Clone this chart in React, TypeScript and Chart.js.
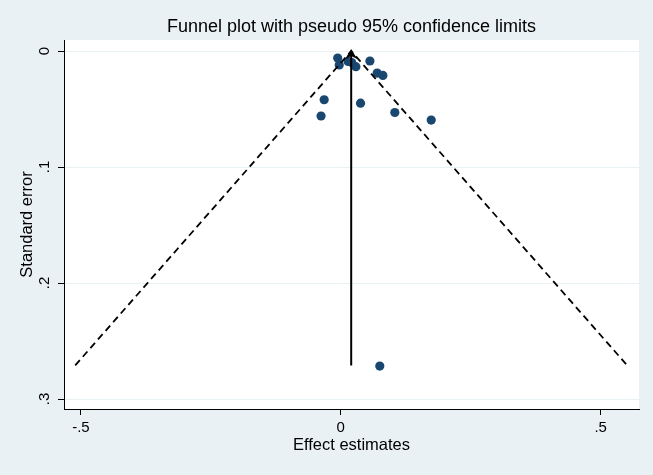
import React, { useEffect, useRef } from "react";
import { Chart, registerables } from "chart.js";

Chart.register(...registerables);

// Study-level data
const effectEstimates = [-0.006, -0.003, 0.014, 0.021, 0.029, 0.056, 0.07, 0.081, -0.032, -0.038, 0.038, 0.104, 0.174, 0.075];
const standardErrors = [0.006, 0.012, 0.009, 0.01, 0.0135, 0.0086, 0.019, 0.021, 0.042, 0.056, 0.045, 0.053, 0.0595, 0.2716];

// Pooled estimate line and pseudo 95% limits
const pooledX = [0.02, 0.02];
const pooledSe = [0.271, 0];
const funnelX = [-0.511, 0.02, 0.551];
const funnelSe = [0.271, 0, 0.271];

// Axes
const xTicks = [-0.5, 0, 0.5];
const xTickLabels = ["-.5", "0", ".5"];
const yTicks = [0, 0.1, 0.2, 0.3];
const yTickLabels = ["0", ".1", ".2", ".3"];

const titleText = "Funnel plot with pseudo 95% confidence limits";

const BG = "rgb(234,241,244)";
const GRID = "rgb(234,241,244)";
const NAVY = "#1a476f";
const FONT = "'Liberation Sans', Arial, Helvetica, sans-serif";

const backgroundPlugin = {
  id: "stataBackground",
  beforeDraw(chart: any) {
    const { ctx, chartArea, width, height } = chart;
    ctx.save();
    ctx.fillStyle = BG;
    ctx.fillRect(0, 0, width, height);
    ctx.fillStyle = "#ffffff";
    ctx.fillRect(chartArea.left, chartArea.top, chartArea.right - chartArea.left, chartArea.bottom - chartArea.top);
    ctx.restore();
  },
  afterDraw(chart: any) {
    const { ctx, chartArea } = chart;
    ctx.save();
    ctx.fillStyle = "#000";
    ctx.font = `18px ${FONT}`;
    ctx.textAlign = "center";
    ctx.textBaseline = "middle";
    ctx.fillText(titleText, (chartArea.left + chartArea.right) / 2, 27);
    ctx.restore();
  },
};

const arrowPlugin = {
  id: "pooledArrow",
  afterDatasetsDraw(chart: any) {
    const { ctx, scales } = chart;
    const px = scales.x.getPixelForValue(pooledX[1]);
    const py = scales.y.getPixelForValue(pooledSe[1]);
    ctx.save();
    ctx.fillStyle = "#000";
    ctx.beginPath();
    ctx.moveTo(px, py - 2);
    ctx.lineTo(px - 6, py + 8);
    ctx.lineTo(px, py + 5);
    ctx.lineTo(px + 6, py + 8);
    ctx.closePath();
    ctx.fill();
    ctx.restore();
  },
};

export default function App() {
  const canvasRef = useRef<HTMLCanvasElement | null>(null);

  useEffect(() => {
    document.body.style.margin = "0";
    document.body.style.background = BG;
    const canvas = canvasRef.current;
    if (!canvas) return;

    const chart = new Chart(canvas, {
      type: "scatter",
      data: {
        datasets: [
          {
            label: "Pooled",
            data: pooledX.map((x, i) => ({ x, y: pooledSe[i] })),
            showLine: true,
            borderColor: "#000",
            borderWidth: 2,
            pointRadius: 0,
            fill: false,
          },
          {
            label: "Pseudo 95% CI",
            data: funnelX.map((x, i) => ({ x, y: funnelSe[i] })),
            showLine: true,
            borderColor: "#000",
            borderWidth: 1.8,
            borderDash: [7, 4.5],
            pointRadius: 0,
            fill: false,
          },
          {
            label: "Studies",
            data: effectEstimates.map((x, i) => ({ x, y: standardErrors[i] })),
            backgroundColor: NAVY,
            borderColor: NAVY,
            borderWidth: 0,
            pointRadius: 4.6,
          },
        ],
      },
      options: {
        animation: false,
        responsive: true,
        maintainAspectRatio: false,
        layout: { padding: { top: 40, right: 14, bottom: 0, left: 0 } },
        plugins: {
          legend: { display: false },
          tooltip: { enabled: false },
          title: { display: false },
        },
        scales: {
          x: {
            type: "linear",
            min: -0.5326,
            max: 0.5738,
            afterBuildTicks: (axis: any) => {
              axis.ticks = xTicks.map((v) => ({ value: v }));
            },
            afterFit: (axis: any) => {
              axis.height = 66;
            },
            ticks: {
              autoSkip: false,
              maxRotation: 0,
              color: "#000",
              padding: 4,
              font: { family: FONT, size: 15 },
              callback: (_v: any, i: number) => xTickLabels[i],
            },
            grid: {
              drawOnChartArea: false,
              drawTicks: true,
              tickLength: 6,
              tickColor: "#000",
              tickWidth: 1,
            },
            border: { display: true, color: "#000", width: 1 },
            title: {
              display: true,
              text: "Effect estimates",
              color: "#000",
              font: { family: FONT, size: 16.5 },
              padding: { top: 0, bottom: 20 },
            },
          },
          y: {
            type: "linear",
            reverse: true,
            min: -0.0095,
            max: 0.3086,
            afterBuildTicks: (axis: any) => {
              axis.ticks = yTicks.map((v) => ({ value: v }));
            },
            afterFit: (axis: any) => {
              axis.width = 64;
            },
            ticks: {
              autoSkip: false,
              minRotation: 90,
              maxRotation: 90,
              crossAlign: "center",
              color: "#000",
              padding: 7,
              font: { family: FONT, size: 15 },
              callback: (_v: any, i: number) => yTickLabels[i],
            },
            grid: {
              color: GRID,
              lineWidth: 1,
              drawOnChartArea: true,
              drawTicks: true,
              tickLength: 6,
              tickColor: "#000",
              tickWidth: 1,
            },
            border: { display: true, color: "#000", width: 1 },
            title: {
              display: true,
              text: "Standard error",
              color: "#000",
              font: { family: FONT, size: 16.5 },
              padding: { top: 18, bottom: 0 },
            },
          },
        },
      },
      plugins: [backgroundPlugin, arrowPlugin],
    });

    return () => chart.destroy();
  }, []);

  return (
    <div style={{ width: 653, height: 475, position: "relative" }}>
      <canvas ref={canvasRef} />
    </div>
  );
}
